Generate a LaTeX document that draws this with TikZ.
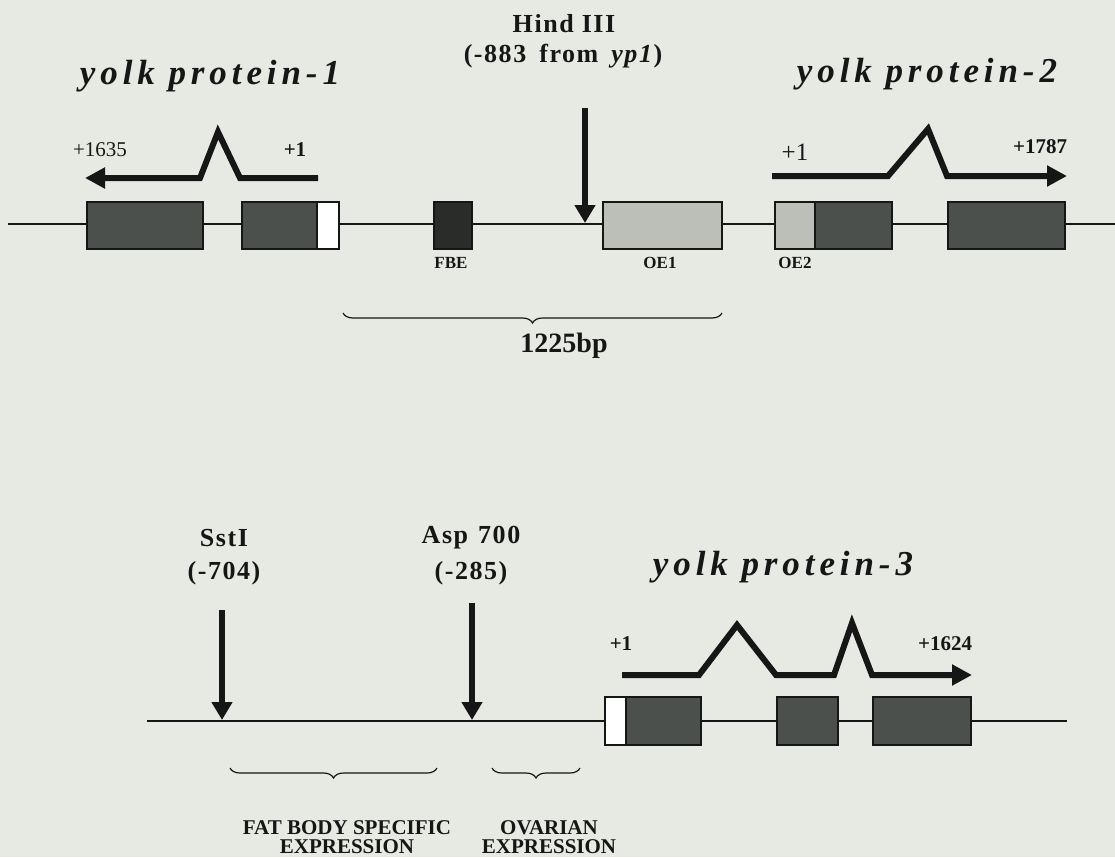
\documentclass[tikz,border=0pt]{standalone}
\usepackage{fontspec}
\setmainfont{Liberation Serif}
\newfontfamily\ypfont[LetterSpace=14]{Liberation Serif}
\newfontfamily\spfont[LetterSpace=6]{Liberation Serif}
\usetikzlibrary{arrows.meta,decorations.pathreplacing}
\definecolor{paper}{RGB}{231,234,227}
\definecolor{exondark}{RGB}{76,80,76}
\definecolor{exonlight}{RGB}{188,190,184}
\definecolor{fbecol}{RGB}{42,44,42}
\definecolor{ink}{RGB}{22,22,22}
\begin{document}
\begin{tikzpicture}[x=1pt,y=-1pt,
  exon/.style={draw=ink, line width=2pt, fill=exondark, inner sep=0pt, outer sep=0pt, minimum height=47pt, anchor=west},
  utr/.style={exon, fill=white},
  oebox/.style={exon, fill=exonlight},
  fbebox/.style={exon, fill=fbecol},
  gene/.style={draw=ink, line width=2pt},
  tx/.style={draw=ink, line width=6pt, line join=miter, -{Triangle[length=20pt,width=20pt]}},
  cut/.style={draw=ink, line width=6pt, -{Triangle[length=18pt,width=20pt]}},
  ypname/.style={font=\ypfont\bfseries\itshape\fontsize{35}{40}\selectfont, anchor=base, text=ink, inner sep=0pt},
  site/.style={font=\spfont\bfseries\fontsize{26}{30}\selectfont, text=ink, inner sep=0pt},
  small/.style={font=\fontsize{21}{24}\selectfont, text=ink, inner sep=0pt},
  smallb/.style={font=\bfseries\fontsize{21}{24}\selectfont, text=ink, inner sep=0pt},
  elab/.style={font=\bfseries\fontsize{17}{20}\selectfont, text=ink, inner sep=0pt},
  expr/.style={font=\bfseries\fontsize{21}{19}\selectfont, align=center, text=ink, inner sep=0pt},
  brc/.style={draw=ink, line width=1.2pt, decorate, decoration={brace, mirror, amplitude=10pt}}
]
\fill[paper] (0,0) rectangle (1115,857);
\useasboundingbox (0,0) rectangle (1115,857);

% ---------------- top: yp1 / yp2 ----------------
\coordinate (topL) at (8,224);
\coordinate (topR) at (1115,224);
\draw[gene] (topL) -- (topR);

\node[exon, minimum width=116pt] (A) at (87,225.5) {};
\node[exon, minimum width=75pt] (B) at (242,225.5) {};
\node[utr, minimum width=22pt] (Bu) at (317,225.5) {};
\node[fbebox, minimum width=38pt] (FBE) at (434,225.5) {};
\node[oebox, minimum width=119pt] (OE1) at (603,225.5) {};
\node[oebox, minimum width=40pt] (OE2) at (775,225.5) {};
\node[exon, minimum width=77pt] (C) at (815,225.5) {};
\node[exon, minimum width=117pt] (D) at (948,225.5) {};

\node[elab] (fbel) at (451,263) {FBE};
\node[elab] (oe1l) at (660,263) {OE1};
\node[elab] (oe2l) at (795,263) {OE2};

% Hind III site
\coordinate (hindtop) at (585,108);
\coordinate (hindtip) at (585,223);
\draw[cut] (hindtop) -- (hindtip);
\node[site] (hind) at (564,24) {Hind\hspace{8pt}III};
\node[site] (hindpos) at (563,56) {(-883\hspace{13pt}from\hspace{13pt}\textit{yp1})};

% gene names
\node[ypname] (yp1) at (210,84) {yolk protein-1};
\node[ypname] (yp2) at (927,82) {yolk protein-2};

% transcripts
\coordinate (t1s) at (318,178);
\coordinate (t1e) at (85,178);
\draw[tx] (t1s) -- (240,178) -- (218,132) -- (200,178) -- (t1e);
\node[small] (p1635) at (100,150) {+1635};
\node[smallb] (p1a) at (295,150) {+1};

\coordinate (t2s) at (772,176);
\coordinate (t2e) at (1067,176);
\draw[tx] (t2s) -- (888,176) -- (928,129) -- (947,176) -- (t2e);
\node[font=\fontsize{25}{28}\selectfont, text=ink, inner sep=0pt] (p1b) at (795,152) {+1};
\node[smallb] (p1787) at (1040,147) {+1787};

% 1225bp brace
\coordinate (b1l) at (343,313);
\coordinate (b1r) at (722,313);
\draw[brc] (b1l) -- (b1r);
\node[font=\bfseries\fontsize{28}{32}\selectfont, text=ink, inner sep=0pt] (bp) at (564,346) {1225bp};

% ---------------- bottom: yp3 ----------------
\coordinate (botL) at (147,721);
\coordinate (botA) at (472,721);
\coordinate (botB) at (605,721);
\coordinate (botR) at (1067,721);
\draw[draw=ink, line width=2.6pt] (botL) -- (botA);
\draw[draw=ink, line width=1.4pt] (botA) -- (botB);
\draw[gene] (botB) -- (botR);

\node[utr, minimum width=21pt, minimum height=48pt] (E1u) at (605,721) {};
\node[exon, minimum width=75pt, minimum height=48pt] (E1) at (626,721) {};
\node[exon, minimum width=61pt, minimum height=48pt] (E2) at (777,721) {};
\node[exon, minimum width=98pt, minimum height=48pt] (E3) at (873,721) {};

\coordinate (sstop) at (222,610);
\coordinate (sstip) at (222,720);
\draw[cut] (sstop) -- (sstip);
\node[site] (sst) at (224,538) {SstI};
\node[site] (sstpos) at (224,573) {(-704)};

\coordinate (asptop) at (472,603);
\coordinate (asptip) at (472,720);
\draw[cut] (asptop) -- (asptip);
\node[site] (asp) at (471,538) {Asp\hspace{10pt}700};
\node[site] (asppos) at (471,573) {(-285)};

\node[ypname] (yp3) at (783,575) {yolk protein-3};

\coordinate (t3s) at (622,675);
\coordinate (t3e) at (972,675);
\draw[tx] (t3s) -- (699,675) -- (737,625) -- (776,675) -- (834,675) -- (852,623) -- (872,675) -- (t3e);
\node[smallb] (p1c) at (621,644) {+1};
\node[smallb] (p1624) at (945,644) {+1624};

\coordinate (b2l) at (230,768);
\coordinate (b2r) at (437,768);
\draw[brc] (b2l) -- (b2r);
\coordinate (b3l) at (492,768);
\coordinate (b3r) at (580,768);
\draw[brc] (b3l) -- (b3r);

\node[expr] (fat) at (347,837) {FAT BODY SPECIFIC\\EXPRESSION};
\node[expr] (ova) at (549,837) {OVARIAN\\EXPRESSION};
\end{tikzpicture}
\end{document}
